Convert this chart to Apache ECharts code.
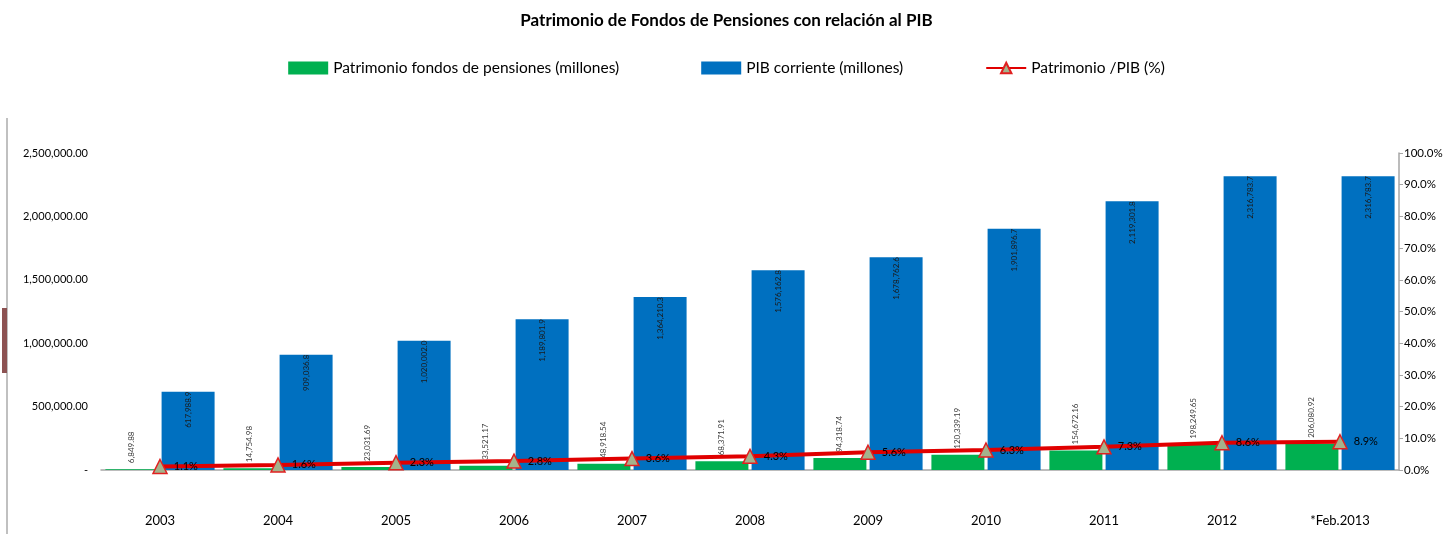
<!DOCTYPE html>
<html>
<head>
<meta charset="utf-8">
<script src="https://cdn.jsdelivr.net/npm/echarts@6/dist/echarts.min.js"></script>
<style>
  html, body { margin: 0; padding: 0; background: #fff; }
  #chart { width: 1453px; height: 534px; }
</style>
</head>
<body>
<div id="chart"></div>
<script>
// categories and values
var years = ["2003", "2004", "2005", "2006", "2007", "2008", "2009", "2010", "2011", "2012", "*Feb.2013"];
var patrimonio = [6849.88, 14754.98, 23031.69, 33521.17, 48918.54, 68371.91, 94318.74, 120339.19, 154672.16, 198249.65, 206080.92];
var pib = [617988.9, 909036.8, 1020002.0, 1189801.9, 1364210.3, 1576162.8, 1678762.6, 1901896.7, 2119301.8, 2316783.7, 2316783.7];
var ratio = [1.1, 1.6, 2.3, 2.8, 3.6, 4.3, 5.6, 6.3, 7.3, 8.6, 8.9];

var font = "Lato, 'Liberation Sans', sans-serif";

function fmt(v, d) {
  return v.toLocaleString("en-US", { minimumFractionDigits: d, maximumFractionDigits: d });
}

var chart = echarts.init(document.getElementById("chart"));
var option = {
  animation: false,
  textStyle: { fontFamily: font },
  title: {
    text: "Patrimonio de Fondos de Pensiones con relación al PIB",
    left: "center",
    top: 7,
    textStyle: { fontSize: 17, fontWeight: "bold", color: "#000", fontFamily: font },
  },
  legend: {
    top: 55,
    left: "center",
    itemWidth: 40,
    itemHeight: 13,
    itemGap: 82,
    textStyle: { fontSize: 15.5, color: "#000", fontFamily: font },
    data: [
      { name: "Patrimonio fondos de pensiones (millones)", icon: "rect" },
      { name: "PIB corriente (millones)", icon: "rect" },
      "Patrimonio /PIB (%)",
    ],
  },
  grid: { left: 101, right: 54, top: 153, bottom: 64 },
  graphic: [
    { type: "rect", shape: { x: 6, y: 118, width: 2, height: 416 }, style: { fill: "#c0c0c0" } },
    { type: "rect", shape: { x: 2, y: 308, width: 5, height: 65 }, style: { fill: "#8c5252" } },
  ],
  xAxis: {
    type: "category",
    data: years,
    axisLine: { lineStyle: { color: "#a6a6a6", width: 1.5 } },
    axisTick: { show: false },
    axisLabel: { margin: 44, fontSize: 13, color: "#000" },
  },
  yAxis: [
    {
      type: "value",
      min: 0,
      max: 2500000,
      interval: 500000,
      splitLine: { show: false },
      axisLine: { show: false },
      axisTick: { show: false },
      axisLabel: {
        fontSize: 11,
        color: "#000",
        margin: 13,
        formatter: function (v) { return v === 0 ? "-" : fmt(v, 2); },
      },
    },
    {
      type: "value",
      min: 0,
      max: 100,
      interval: 10,
      splitLine: { show: false },
      axisLine: { show: true, lineStyle: { color: "#a6a6a6", width: 1.5 } },
      axisTick: { show: true, length: 4, lineStyle: { color: "#a6a6a6" } },
      axisLabel: {
        fontSize: 11.5,
        color: "#000",
        margin: 5,
        formatter: function (v) { return v.toFixed(1) + "%"; },
      },
    },
  ],
  series: [
    {
      name: "Patrimonio fondos de pensiones (millones)",
      type: "bar",
      data: patrimonio,
      barWidth: 53,
      barGap: "6%",
      itemStyle: { color: "#00b050" },
      label: {
        show: true,
        position: "top",
        rotate: 90,
        align: "left",
        verticalAlign: "middle",
        distance: 6,
        fontSize: 8,
        color: "#404040",
        formatter: function (p) { return fmt(p.value, 2); },
      },
    },
    {
      name: "PIB corriente (millones)",
      type: "bar",
      data: pib,
      barWidth: 53,
      itemStyle: { color: "#0070c0" },
      label: {
        show: true,
        position: "insideTop",
        rotate: 90,
        align: "right",
        verticalAlign: "middle",
        distance: 0,
        fontSize: 8,
        color: "#1a1a1a",
        formatter: function (p) { return fmt(p.value, 1); },
      },
    },
    {
      name: "Patrimonio /PIB (%)",
      type: "line",
      yAxisIndex: 1,
      data: ratio,
      z: 5,
      symbol: "triangle",
      symbolSize: 14,
      lineStyle: { color: "#e00000", width: 4 },
      itemStyle: { color: "#a4b38c", borderColor: "#e02020", borderWidth: 1.5 },
      label: {
        show: true,
        position: "right",
        distance: 6,
        fontSize: 11,
        color: "#000",
        formatter: function (p) { return p.value.toFixed(1) + "%"; },
      },
    },
  ],
};
option && chart.setOption(option);
</script>
</body>
</html>
